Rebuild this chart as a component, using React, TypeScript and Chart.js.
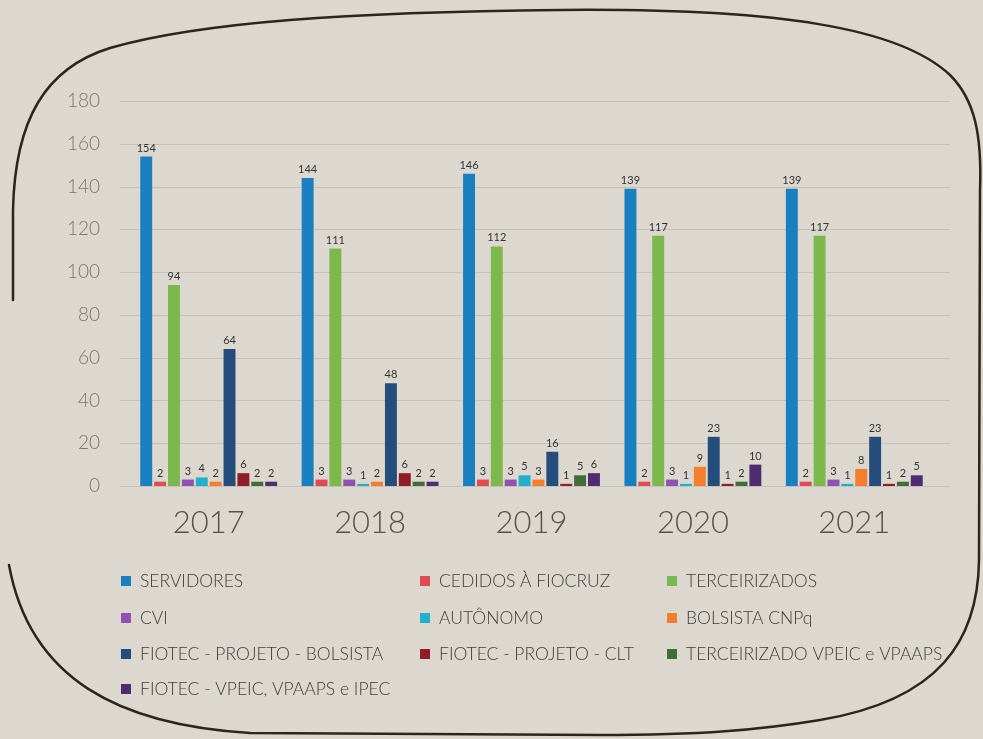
import React, { useEffect, useRef } from "react";
import { Chart, registerables } from "chart.js";

Chart.register(...registerables);

const years = ["2017", "2018", "2019", "2020", "2021"];
const yTicks = [0, 20, 40, 60, 80, 100, 120, 140, 160, 180];

const seriesNames = [
  "SERVIDORES",
  "CEDIDOS À FIOCRUZ",
  "TERCEIRIZADOS",
  "CVI",
  "AUTÔNOMO",
  "BOLSISTA CNPq",
  "FIOTEC - PROJETO - BOLSISTA",
  "FIOTEC - PROJETO - CLT",
  "TERCEIRIZADO VPEIC e VPAAPS",
  "FIOTEC - VPEIC, VPAAPS e IPEC",
];
const seriesColors = [
  "#1a7fc1",
  "#e04a50",
  "#7cb84c",
  "#8f4fb3",
  "#1eb1c9",
  "#f47d2e",
  "#254d7c",
  "#8f1f25",
  "#3f6d35",
  "#4d2d6f",
];

const servidores = [154, 144, 146, 139, 139];
const cedidos = [2, 3, 3, 2, 2];
const terceirizados = [94, 111, 112, 117, 117];
const cvi = [3, 3, 3, 3, 3];
const autonomo = [4, 1, 5, 1, 1];
const bolsistaCnpq = [2, 2, 3, 9, 8];
const fiotecBolsista = [64, 48, 16, 23, 23];
const fiotecClt = [6, 6, 1, 1, 1];
const terceirizadoVpeic = [2, 2, 5, 2, 2];
const fiotecVpeic = [2, 2, 6, 10, 5];

const seriesValues = [
  servidores,
  cedidos,
  terceirizados,
  cvi,
  autonomo,
  bolsistaCnpq,
  fiotecBolsista,
  fiotecClt,
  terceirizadoVpeic,
  fiotecVpeic,
];

const BG = "#dcd8cf";

const framePlugin = {
  id: "frame",
  beforeDraw(chart: any) {
    const ctx = chart.ctx;
    ctx.save();
    ctx.fillStyle = BG;
    ctx.fillRect(0, 0, chart.width, chart.height);
    ctx.strokeStyle = "#2b261d";
    ctx.lineWidth = 2.5;
    ctx.lineCap = "round";
    ctx.beginPath();
    ctx.moveTo(13, 300);
    ctx.lineTo(13, 210);
    ctx.bezierCurveTo(15, 120, 45, 68, 110, 48);
    ctx.bezierCurveTo(200, 22, 350, 12, 560, 10);
    ctx.bezierCurveTo(780, 8, 900, 28, 950, 75);
    ctx.bezierCurveTo(975, 100, 982, 135, 980, 190);
    ctx.lineTo(979, 560);
    ctx.bezierCurveTo(978, 640, 940, 700, 820, 720);
    ctx.bezierCurveTo(760, 730, 700, 735, 600, 735);
    ctx.lineTo(250, 733);
    ctx.bezierCurveTo(120, 725, 30, 680, 9, 565);
    ctx.stroke();
    ctx.restore();
  },
  beforeDatasetsDraw(chart: any) {
    const ctx = chart.ctx;
    const y = chart.scales.y;
    ctx.save();
    ctx.strokeStyle = "#c6c2b9";
    ctx.lineWidth = 1;
    yTicks.forEach((v) => {
      const py = Math.round(y.getPixelForValue(v)) + 0.5;
      ctx.beginPath();
      ctx.moveTo(120, py);
      ctx.lineTo(950, py);
      ctx.stroke();
    });
    ctx.restore();
  },
  afterDatasetsDraw(chart: any) {
    const ctx = chart.ctx;
    ctx.save();
    ctx.fillStyle = "#333";
    ctx.font = "11px Lato";
    ctx.textAlign = "center";
    ctx.textBaseline = "bottom";
    chart.data.datasets.forEach((ds: any, i: number) => {
      const meta = chart.getDatasetMeta(i);
      meta.data.forEach((el: any, j: number) => {
        ctx.fillText(String(ds.data[j]), el.x, el.y - 3);
      });
    });
    ctx.restore();
  },
  afterDraw(chart: any) {
    const ctx = chart.ctx;
    const colX = [121, 420, 667];
    const rowY = [581, 618, 654, 689];
    ctx.save();
    ctx.font = "300 17.5px Lato";
    ctx.textBaseline = "middle";
    ctx.textAlign = "left";
    chart.data.datasets.forEach((ds: any, i: number) => {
      const x = colX[i % 3];
      const yy = rowY[Math.floor(i / 3)];
      ctx.fillStyle = ds.backgroundColor;
      ctx.fillRect(x, yy - 5, 10, 10);
      ctx.fillStyle = "#3f3d3a";
      ctx.fillText(ds.label, x + 19, yy);
    });
    ctx.restore();
  },
};

export default function App() {
  const ref = useRef<HTMLCanvasElement>(null);
  useEffect(() => {
    document.body.style.margin = "0";
    document.body.style.background = BG;
    const chart = new Chart(ref.current as HTMLCanvasElement, {
      type: "bar",
      data: {
        labels: years,
        datasets: seriesNames.map((name, i) => ({
          label: name,
          data: seriesValues[i],
          backgroundColor: seriesColors[i],
          categoryPercentage: 0.86,
          barPercentage: 0.86,
        })),
      },
      options: {
        animation: false,
        responsive: false,
        layout: { padding: { top: 101, right: 48, bottom: 203, left: 0 } },
        plugins: { legend: { display: false }, tooltip: { enabled: false } },
        scales: {
          x: {
            grid: { display: false, drawTicks: false },
            border: { display: false },
            ticks: {
              padding: 18,
              color: "#55524c",
              font: { family: "Lato", size: 31, weight: "300" },
            },
            afterFit(scale: any) {
              scale.height = 50;
            },
          },
          y: {
            min: 0,
            max: 180,
            afterBuildTicks(scale: any) {
              scale.ticks = yTicks.map((v) => ({ value: v }));
            },
            grid: { display: false, drawTicks: false },
            border: { display: false },
            ticks: {
              padding: 28,
              color: "#7a7770",
              font: { family: "Lato", size: 19, weight: "300" },
            },
            afterFit(scale: any) {
              scale.width = 128;
            },
          },
        },
      },
      plugins: [framePlugin],
    } as any);
    return () => chart.destroy();
  }, []);
  return (
    <div style={{ position: "fixed", left: 0, top: 0, width: 983, height: 739, background: BG }}>
      <canvas ref={ref} width={983} height={739} style={{ display: "block" }} />
    </div>
  );
}
